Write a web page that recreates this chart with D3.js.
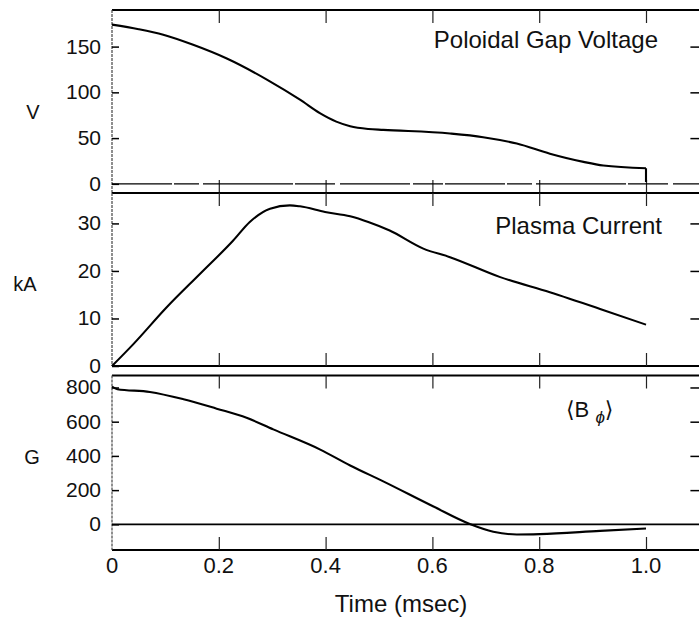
<!DOCTYPE html>
<html>
<head>
<meta charset="utf-8">
<script src="https://cdn.jsdelivr.net/npm/d3@7"></script>
<style>
    body { margin: 0; background: #fff; }
    text { font-family: "Liberation Sans", Arial, sans-serif; fill: #111; }
</style>
</head>
<body>
<svg width="699" height="619"></svg>
<script>
// data
var timeTicks = [0, 0.2, 0.4, 0.6, 0.8, 1.0];

var voltTime  = [0, 0.05, 0.096, 0.152, 0.215, 0.29, 0.352, 0.39, 0.42, 0.446, 0.48, 0.508, 0.633, 0.695, 0.758, 0.82, 0.883, 0.92, 1.0, 1.0];
var voltValue = [174, 169, 163, 152, 137, 114, 92, 77, 68, 63, 60, 59, 55, 51, 44, 33, 24, 20, 17, 2];
var voltTicks = [0, 50, 100, 150];

var currTime  = [0, 0.04, 0.102, 0.165, 0.227, 0.258, 0.296, 0.333, 0.352, 0.399, 0.446, 0.48, 0.52, 0.583, 0.633, 0.727, 0.82, 0.914, 1.0];
var currValue = [0, 4.6, 12.3, 19.4, 26.4, 30.3, 33.1, 33.8, 33.6, 32.4, 31.5, 30.3, 28.5, 24.7, 22.9, 18.7, 15.5, 12.0, 8.7];
var currTicks = [0, 10, 20, 30];

var fieldTime  = [0, 0.01, 0.071, 0.134, 0.196, 0.252, 0.302, 0.39, 0.446, 0.508, 0.602, 0.67, 0.714, 0.758, 0.801, 0.914, 1.0];
var fieldValue = [805, 790, 774, 731, 676, 623, 555, 437, 344, 251, 104, 2, -43, -59, -57, -38, -24];
var fieldTicks = [0, 200, 400, 600, 800];

var svg = d3.select("svg");
var width = +svg.attr("width");

var left = 112;
var right = 699.4;

var x = d3.scaleLinear()
    .domain([0, 1.1])
    .range([left, right]);

var panels = [
    {top: 10, bottom: 193, domain: [-10, 190], ticks: voltTicks, unit: "V", unitX: 33, unitAt: 80, t: voltTime, v: voltValue},
    {top: 193, bottom: 366, domain: [0, 36.4], ticks: currTicks, unit: "kA", unitX: 25, unitAt: 17.5, t: currTime, v: currValue},
    {top: 375.5, bottom: 550, domain: [-150, 870], ticks: fieldTicks, unit: "G", unitX: 32, unitAt: 400, t: fieldTime, v: fieldValue}
];

panels.forEach(function(p) {
    var y = d3.scaleLinear()
        .domain(p.domain)
        .range([p.bottom, p.top]);
    p.y = y;
    var g = svg.append("g");

    // frame: thick top / bottom, thin dotted left
    g.append("line")
        .attr("x1", left).attr("x2", width)
        .attr("y1", p.top).attr("y2", p.top)
        .attr("stroke", "#000").attr("stroke-width", 2);
    g.append("line")
        .attr("x1", left).attr("x2", width)
        .attr("y1", p.bottom).attr("y2", p.bottom)
        .attr("stroke", "#000").attr("stroke-width", 2);
    g.append("line")
        .attr("x1", left).attr("x2", left)
        .attr("y1", p.top).attr("y2", p.bottom)
        .attr("stroke", "#444").attr("stroke-width", 1.2)
        .style("stroke-dasharray", "3,1");

    // left inward ticks
    var leftAxis = d3.axisRight(y)
        .tickValues(p.ticks)
        .tickSize(7)
        .tickFormat("");
    g.append("g")
        .attr("transform", "translate(" + left + ",0)")
        .call(leftAxis)
        .call(function(s) {
            s.select(".domain").remove();
            s.selectAll("line").attr("stroke", "#000").attr("stroke-width", 1.5);
        });
    g.selectAll(".ylab")
        .data(p.ticks)
        .enter()
        .append("text")
        .attr("class", "ylab")
        .attr("x", 101)
        .attr("y", function(d) { return y(d) + 7; })
        .attr("text-anchor", "end")
        .style("font-size", "21px")
        .text(function(d) { return d; });

    // right inward ticks
    var rightAxis = d3.axisLeft(y)
        .tickValues(p.ticks.filter(function(d) { return d > 0; }))
        .tickSize(9)
        .tickFormat("");
    g.append("g")
        .attr("transform", "translate(" + right + ",0)")
        .call(rightAxis)
        .call(function(s) {
            s.select(".domain").remove();
            s.selectAll("line").attr("stroke", "#000").attr("stroke-width", 1.5);
        });

    // top / bottom inward ticks
    var inner = timeTicks.slice(1);
    var topAxis = d3.axisBottom(x).tickValues(inner).tickSize(13).tickFormat("");
    var botAxis = d3.axisTop(x).tickValues(inner).tickSize(13).tickFormat("");
    g.append("g")
        .attr("transform", "translate(0," + p.top + ")")
        .call(topAxis)
        .call(function(s) {
            s.select(".domain").remove();
            s.selectAll("line").attr("stroke", "#222").attr("stroke-width", 1.2);
        });
    g.append("g")
        .attr("transform", "translate(0," + p.bottom + ")")
        .call(botAxis)
        .call(function(s) {
            s.select(".domain").remove();
            s.selectAll("line").attr("stroke", "#222").attr("stroke-width", 1.2);
        });

    // unit label
    g.append("text")
        .attr("x", p.unitX)
        .attr("y", y(p.unitAt) + 8)
        .attr("text-anchor", "middle")
        .style("font-size", "20px")
        .text(p.unit);

    // curve, split where time repeats (vertical drop) so the spline stays flat there
    var pts = p.t.map(function(t, k) { return [t, p.v[k]]; });
    var smooth = d3.line()
        .curve(d3.curveMonotoneX)
        .x(function(d) { return x(d[0]); })
        .y(function(d) { return y(d[1]); });
    var straight = d3.line()
        .x(function(d) { return x(d[0]); })
        .y(function(d) { return y(d[1]); });
    var cut = pts.length;
    for (var k = 1; k < pts.length; k++) {
        if (pts[k][0] == pts[k - 1][0]) { cut = k; break; }
    }
    var d = smooth(pts.slice(0, cut));
    if (cut < pts.length) d += straight(pts.slice(cut - 1)).replace(/^M/, "M");
    g.append("path")
        .attr("d", d)
        .attr("fill", "none")
        .attr("stroke", "#000")
        .attr("stroke-width", 2.1)
        .attr("stroke-linejoin", "round");
});

// zero traces
svg.append("line")
    .attr("x1", left).attr("x2", width)
    .attr("y1", panels[0].y(0)).attr("y2", panels[0].y(0))
    .attr("stroke", "#000").attr("stroke-width", 1.4)
    .style("stroke-dasharray", "60,2,25,4,90,2,40,5,70,3,30,2");
svg.append("line")
    .attr("x1", left).attr("x2", width)
    .attr("y1", panels[2].y(0)).attr("y2", panels[2].y(0))
    .attr("stroke", "#000").attr("stroke-width", 1.8);

// x tick labels
svg.selectAll(".xlab")
    .data(timeTicks)
    .enter()
    .append("text")
    .attr("class", "xlab")
    .attr("x", function(d) { return x(d); })
    .attr("y", 573)
    .attr("text-anchor", "middle")
    .style("font-size", "22px")
    .text(function(d) { return d == 0 ? "0" : d.toFixed(1); });

svg.append("text")
    .attr("x", 401)
    .attr("y", 612)
    .attr("text-anchor", "middle")
    .style("font-size", "24px")
    .text("Time (msec)");

// annotations
svg.append("text")
    .attr("x", 658)
    .attr("y", 48)
    .attr("text-anchor", "end")
    .style("font-size", "24px")
    .text("Poloidal Gap Voltage");

svg.append("text")
    .attr("x", 662)
    .attr("y", 234)
    .attr("text-anchor", "end")
    .style("font-size", "24px")
    .text("Plasma Current");

var bphi = svg.append("text")
    .attr("x", 566)
    .attr("y", 417)
    .style("font-size", "22px");
bphi.append("tspan").style("font-family", "DejaVu Sans").text("\u27E8");
bphi.append("tspan").text("B ");
bphi.append("tspan")
    .attr("dy", 6)
    .style("font-size", "17px")
    .style("font-style", "italic")
    .text("\u03D5");
bphi.append("tspan")
    .attr("dy", -6)
    .style("font-family", "DejaVu Sans")
    .text("\u27E9");
</script>
</body>
</html>
